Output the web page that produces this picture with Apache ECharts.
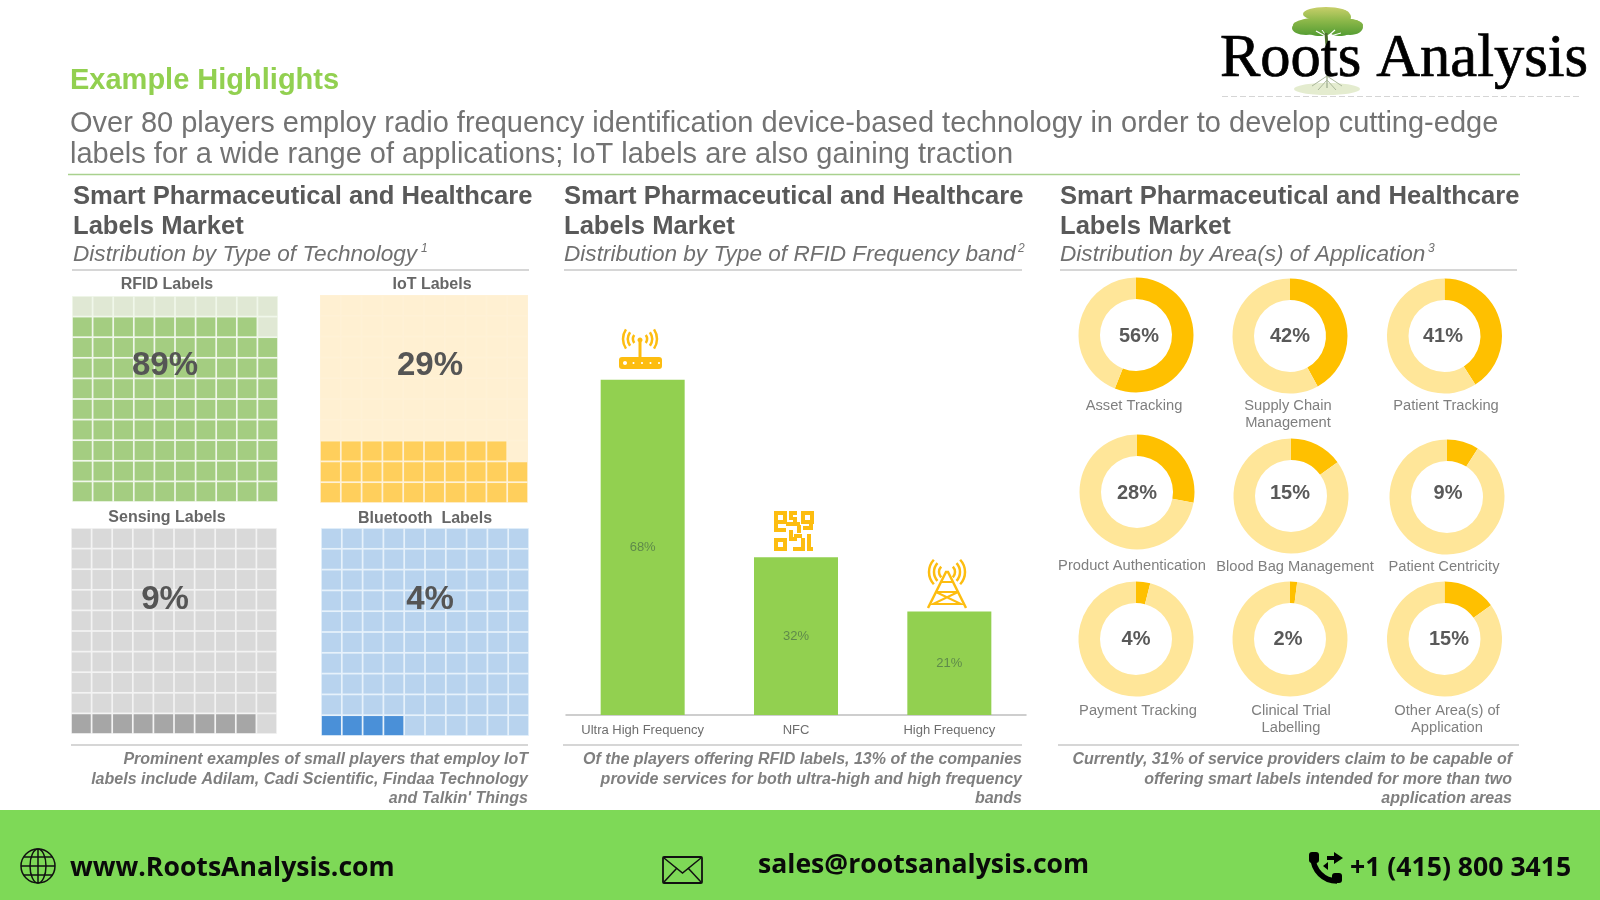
<!DOCTYPE html>
<html>
<head>
<meta charset="utf-8">
<title>Example Highlights</title>
<script src="https://cdn.jsdelivr.net/npm/echarts@6/dist/echarts.min.js"></script>
<style>
html,body{margin:0;padding:0;background:#fff;}
#main{width:1600px;height:900px;}
</style>
</head>
<body>
<div id="main"></div>
<script>
// data
var techNames = ['RFID Labels','IoT Labels','Sensing Labels','Bluetooth  Labels'];
var techShares = [89,29,9,4];
var bandNames = ['Ultra High Frequency','NFC','High Frequency'];
var bandShares = [68,32,21];
var areaNames = ['Asset Tracking','Supply Chain\nManagement','Patient Tracking','Product Authentication','Blood Bag Management','Patient Centricity','Payment Tracking','Clinical Trial\nLabelling','Other Area(s) of\nApplication'];
var areaShares = [56,42,41,28,15,9,4,2,15];
var cellIndex = ['0','1','2','3','4','5','6','7','8','9'];

var sectionSubs = ['Distribution by Type of Technology','Distribution by Type of RFID Frequency band','Distribution by Area(s) of Application'];
var notes = [
	['Prominent examples of small players that employ IoT','labels include Adilam, Cadi Scientific, Findaa Technology','and Talkin\' Things'],
	['Of the players offering RFID labels, 13% of the companies','provide services for both ultra-high and high frequency','bands'],
	['Currently, 31% of service providers claim to be capable of','offering smart labels intended for more than two','application areas']
];

// layout, kept apart from the values
var wafflePos = [
	{left:72,top:296,size:206,title:[167,285],pct:[165,366],on:'#a4cd81',off:'#e0e8d4',gap:'#f0f7ea'},
	{left:320,top:295,size:208,title:[432,285],pct:[430,366],on:'#ffcf5c',off:'#fff0d2',gap:'#fff1d6'},
	{left:71,top:528,size:206,title:[167,518],pct:[165,600],on:'#a6a6a6',off:'#d9d9d9',gap:'#f3f3f3'},
	{left:321,top:528,size:208,title:[425,519],pct:[430,600],on:'#4a90d8',off:'#b8d3ee',gap:'#e6f1fb'}
];
var donutPos = [[1136,335],[1290,336],[1444.5,336],[1137,492],[1291,496],[1447,497],[1136,639],[1290,639],[1444.5,639]];
var donutPct = [[1139,336],[1290,336],[1443,336],[1137,493],[1290,493],[1448,493],[1136,639],[1288,639],[1449,639]];
var donutLbl = [[1134,406],[1288,406],[1446,406],[1132,566],[1295,567],[1444,567],[1138,711],[1291,711],[1447,711]];
var sectionX = [73,564,1060];
var ruleX = [[72,529,71,528],[564,1022,563,1022],[1060,1517,1058,1519]];
var noteRight = [528,1022,1512];

var GREY = '#595959';
var YEL = '#fdbd10';
var sans = '"Liberation Sans",Arial,sans-serif';
var gfx = [];

function txt(x,y,s,font,fill,align){
	gfx.push({type:'text',x:x,y:y,z:50,silent:true,style:{text:s,font:font,fill:fill,textAlign:align||'left',textVerticalAlign:'middle'}});
}
function line(x1,y1,x2,y2,color,w){
	gfx.push({type:'line',silent:true,shape:{x1:x1,y1:y1,x2:x2,y2:y2},style:{stroke:color,lineWidth:w}});
}
function poly(points,color,w){
	gfx.push({type:'polyline',silent:true,shape:{points:points},style:{stroke:color,lineWidth:w,fill:null}});
}
function rect(x,y,w,h,r,fill){
	gfx.push({type:'rect',silent:true,shape:{x:x,y:y,width:w,height:h,r:r||0},style:{fill:fill}});
}
function arc(cx,cy,r,a,b,color,w){
	gfx.push({type:'arc',silent:true,shape:{cx:cx,cy:cy,r:r,startAngle:a,endAngle:b,clockwise:true},style:{stroke:color,lineWidth:w,fill:null}});
}
function ell(cx,cy,rx,ry,fill,stroke,w,op){
	gfx.push({type:'ellipse',silent:true,shape:{cx:cx,cy:cy,rx:rx,ry:ry},style:{fill:fill,stroke:stroke,lineWidth:w||0,opacity:op==null?1:op}});
}

// header
rect(0,810,1600,90,0,'#7ed957');
txt(70,81,'Example Highlights','bold 29px '+sans,'#92d050');
txt(70,124,'Over 80 players employ radio frequency identification device-based technology in order to develop cutting-edge','29px '+sans,'#737373');
txt(70,155,'labels for a wide range of applications; IoT labels are also gaining traction','29px '+sans,'#737373');
line(68,174.5,1520,174.5,'#a9d18e',1.5);

// section heads, rules and notes
sectionX.forEach(function(x,i){
	txt(x,197,'Smart Pharmaceutical and Healthcare','bold 25.6px '+sans,GREY);
	txt(x,227,'Labels Market','bold 25.6px '+sans,GREY);
	txt(x,255,sectionSubs[i],'italic 22.6px '+sans,'#707070');
	line(ruleX[i][0],270,ruleX[i][1],270,'#c9c9c9',1.5);
	line(ruleX[i][2],745,ruleX[i][3],745,'#c9c9c9',1.5);
	notes[i].forEach(function(t,k){
		txt(noteRight[i],760+k*19.5,t,'italic bold 16px '+sans,'#7f7f7f','right');
	});
});
txt(421,249,'1','italic 12px '+sans,'#707070');
txt(1018,249,'2','italic 12px '+sans,'#707070');
txt(1428,249,'3','italic 12px '+sans,'#707070');

// waffle captions
wafflePos.forEach(function(p,i){
	txt(p.title[0],p.title[1],techNames[i],'bold 16px '+sans,'#666','center');
});

// donut captions
areaNames.forEach(function(n,i){
	n.split('\n').forEach(function(t,k){
		txt(donutLbl[i][0],donutLbl[i][1]+k*17,t,'14.7px '+sans,'#7f7f7f','center');
	});
});

// router icon
rect(619,357,43,12,3,YEL);
[0,1,2,3,4].forEach(function(k){ ell(625+k*8.5,363,k==0?2:1,k==0?2:1,'#fff'); });
line(640,342,640,357,YEL,3);
ell(640,340,2.5,2.5,YEL);
[7,12,17].forEach(function(r){
	arc(640,339,r,-0.6,0.6,YEL,2.5);
	arc(640,339,r,Math.PI-0.6,Math.PI+0.6,YEL,2.5);
});

// qr icon
[[774,511],[801,511],[774,538]].forEach(function(q){
	gfx.push({type:'rect',silent:true,shape:{x:q[0]+2,y:q[1]+2,width:9,height:9},style:{fill:null,stroke:YEL,lineWidth:4}});
});
[[789,511,8,4],[789,511,4,9],[793,517,4,8],[786,522,14,4],[797,525,4,8],[774,528,12,4],[774,522,4,9],[803,526,10,4],[809,520,4,9],[789,530,4,8],[789,537,8,4],[793,547,9,4],[801,538,4,13],[807,534,4,17],[807,547,6,4],[794,534,8,4]].forEach(function(q){
	rect(q[0],q[1],q[2],q[3],0,YEL);
});

// tower icon
poly([[928,608],[946,572],[948,572],[966,608]],YEL,2.5);
poly([[936,592],[958,592]],YEL,2);
poly([[941,582],[953,582]],YEL,2);
poly([[936,592],[961,604],[933,604],[958,592]],YEL,2);
[8,13,18].forEach(function(r){
	arc(947,572,r,-0.75,0.75,YEL,2.5);
	arc(947,572,r,Math.PI-0.75,Math.PI+0.75,YEL,2.5);
});

// logo
var canopy = {type:'linear',x:0,y:7,x2:0,y2:37,global:true,colorStops:[{offset:0,color:'#c8cf6a'},{offset:0.45,color:'#8db84a'},{offset:1,color:'#4f9a30'}]};
ell(1326,14,23,7,canopy);
ell(1338,17,13,8,canopy);
ell(1328,25,35,8,canopy);
ell(1306,28,14,7,canopy);
ell(1350,27,13,8,canopy);
ell(1320,32,12,4,canopy);
ell(1340,33,9,3,canopy);
poly([[1327,37],[1316,31]],'#fff',1.2);
poly([[1327,37],[1322,30]],'#fff',1);
poly([[1327,37],[1335,30]],'#fff',1.2);
poly([[1327,37],[1341,33]],'#fff',1);
line(1326,33,1327,46,'#4a6b2c',3);
ell(1327,89,33,6,'#dbe6bf',null,0,0.75);
line(1327,74,1327,88,'#aab79a',1.5);
line(1312,86,1327,76,'#aab79a',1);
line(1342,86,1327,76,'#aab79a',1);
line(1318,90,1327,80,'#aab79a',1);
line(1336,90,1327,80,'#aab79a',1);
gfx.push({type:'text',x:1220,y:60,z:50,silent:true,style:{text:'Roots Analysis',font:'60.5px "Liberation Serif",serif',fill:'#000',stroke:'#000',lineWidth:0.7,textAlign:'left',textVerticalAlign:'middle'}});
gfx.push({type:'line',silent:true,shape:{x1:1222,y1:96.5,x2:1582,y2:96.5},style:{stroke:'#d5d5d5',lineWidth:1,lineDash:[6,3]}});

// footer
ell(38,866,17,17,null,'#111',1.5);
ell(38,866,8,17,null,'#111',1.5);
line(38,849,38,883,'#111',1.5);
line(21,866,55,866,'#111',1.5);
line(24,857,52,857,'#111',1.5);
line(24,875,52,875,'#111',1.5);
txt(70,868,'www.RootsAnalysis.com','bold 26.6px "Open Sans",sans-serif','#0a0a0a');
gfx.push({type:'rect',silent:true,shape:{x:663,y:857,width:39,height:26,r:1},style:{fill:null,stroke:'#111',lineWidth:1.8}});
poly([[664,858],[682.5,873],[701,858]],'#111',1.5);
poly([[664,882],[677,868]],'#111',1.5);
poly([[701,882],[688,868]],'#111',1.5);
txt(758,865,'sales@rootsanalysis.com','bold 26.6px "Open Sans",sans-serif','#0a0a0a');
arc(1337,857,24,Math.PI/2,Math.PI,'#000',5.5);
rect(1309,852,10,11,3,'#000');
rect(1332,873,10,10,3,'#000');
gfx.push({type:'polygon',silent:true,shape:{points:[[1327,856],[1334,856],[1334,852],[1343,858],[1334,864],[1334,860],[1327,860]]},style:{fill:'#000'}});
gfx.push({type:'polygon',silent:true,shape:{points:[[1323,866],[1328,862],[1328,870]]},style:{fill:'#000'}});
txt(1350,868,'+1 (415) 800 3415','bold 26.6px "Open Sans",sans-serif','#0a0a0a');

// waffles: one grid each, cells filled from the bottom row up
var grids = [], xAxes = [], yAxes = [], series = [];
wafflePos.forEach(function(p,i){
	grids.push({left:p.left,top:p.top,width:p.size,height:p.size,show:true,backgroundColor:p.gap,borderWidth:0,z:1});
	xAxes.push({type:'category',gridIndex:i,data:cellIndex,show:false});
	yAxes.push({type:'category',gridIndex:i,data:cellIndex,show:false});
	var cells = [];
	for(var r=0;r<10;r++){
		for(var c=0;c<10;c++){
			var filled = r*10+c < techShares[i];
			cells.push({value:[c,r],itemStyle:{color:filled?p.on:p.off,opacity:1}});
		}
	}
	series.push({
		type:'scatter',xAxisIndex:i,yAxisIndex:i,symbol:'rect',symbolSize:p.size/10-1.7,
		silent:true,animation:false,data:cells
	});
});

// bars
grids.push({left:566,top:320.6,width:460,height:394.4});
xAxes.push({type:'category',gridIndex:4,data:bandNames,axisTick:{show:false},
	axisLine:{lineStyle:{color:'#bfbfbf',width:1.5}},
	axisLabel:{margin:9,fontFamily:sans,fontSize:13,color:'#6e6e6e',interval:0}});
yAxes.push({type:'value',gridIndex:4,min:0,max:80,show:false,splitLine:{show:false}});
series.push({
	type:'bar',xAxisIndex:4,yAxisIndex:4,data:bandShares,barWidth:84,silent:true,animation:false,
	itemStyle:{color:'#92d050'},
	label:{show:true,position:'inside',formatter:'{c}%',fontFamily:sans,fontSize:13,color:'#5f8a4a'}
});

// donuts
areaShares.forEach(function(v,i){
	series.push({
		type:'pie',center:donutPos[i],radius:[36,57.5],startAngle:90,clockwise:true,silent:true,animation:false,
		label:{show:false},labelLine:{show:false},
		data:[{value:v,itemStyle:{color:'#ffc000'}},{value:100-v,itemStyle:{color:'#ffe699'}}]
	});
});

// big numbers go on top of the marks
techShares.forEach(function(v,i){
	txt(wafflePos[i].pct[0],wafflePos[i].pct[1],v+'%','bold 33px '+sans,'#555','center');
});
areaShares.forEach(function(v,i){
	txt(donutPct[i][0],donutPct[i][1],v+'%','bold 20px '+sans,GREY,'center');
});

var myChart = echarts.init(document.getElementById('main'));
var option = {
	backgroundColor:'#fff',
	animation:false,
	grid:grids,
	xAxis:xAxes,
	yAxis:yAxes,
	series:series,
	graphic:{elements:gfx}
};
myChart.setOption(option);
</script>
</body>
</html>
